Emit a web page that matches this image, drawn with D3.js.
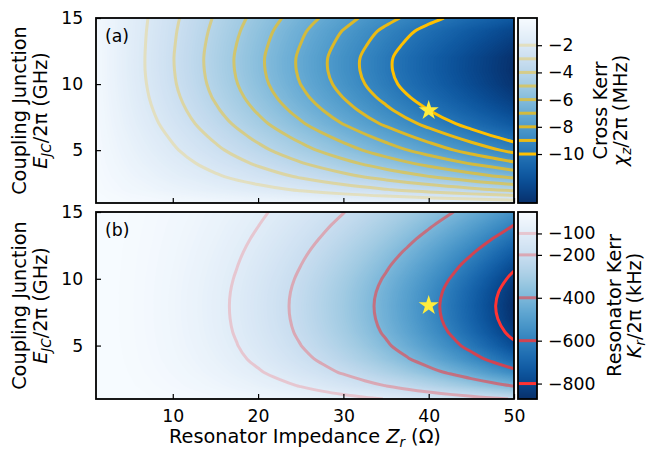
<!DOCTYPE html>
<html>
<head>
<meta charset="utf-8">
<script src="https://cdn.jsdelivr.net/npm/d3@7"></script>
<style>
  body { margin: 0; background: #fff; }
  svg { font-family: "DejaVu Sans", sans-serif; font-size: 17.3px; }
  .big { font-size: 19.3px; }
</style>
</head>
<body>
<svg width="652" height="454"></svg>
<script>
// grids: columns = resonator impedance (Ohm), rows = E_JC/2pi (GHz)
const crossZ = [0, 5, 10, 15, 20, 25, 30, 35, 40, 45, 50]
const kerrZ = [0, 2.5, 5, 7.5, 10, 12.5, 15, 17.5, 20, 22.5, 25, 27.5, 30, 32.5, 35, 37.5, 40, 42.5, 45, 47.5, 50]
const ejcGrid = [1, 2, 3, 4, 5, 6, 7, 8, 9, 10, 11, 12, 13, 14, 15]

// cross Kerr chi_z/2pi (MHz), one row per ejcGrid value
const crossKerr = [
  [0, -0.14, -0.28, -0.42, -0.56, -0.70, -0.84, -0.98, -1.12, -1.26, -1.40],
  [0, -0.42, -0.84, -1.26, -1.68, -2.10, -2.52, -2.94, -3.36, -3.78, -4.20],
  [0, -0.62, -1.25, -1.87, -2.49, -3.11, -3.74, -4.36, -4.98, -5.60, -6.23],
  [0, -0.79, -1.57, -2.36, -3.14, -3.93, -4.71, -5.50, -6.28, -7.07, -7.85],
  [0, -0.93, -1.87, -2.80, -3.73, -4.66, -5.59, -6.52, -7.45, -8.38, -9.30],
  [0, -1.06, -2.12, -3.18, -4.23, -5.27, -6.31, -7.35, -8.38, -9.41, -10.44],
  [0, -1.20, -2.38, -3.56, -4.72, -5.88, -7.03, -8.17, -9.29, -10.41, -11.52],
  [0, -1.30, -2.59, -3.86, -5.11, -6.35, -7.58, -8.79, -9.98, -11.15, -12.31],
  [0, -1.39, -2.76, -4.11, -5.43, -6.74, -8.02, -9.29, -10.53, -11.75, -12.95],
  [0, -1.45, -2.88, -4.28, -5.66, -7.01, -8.34, -9.65, -10.92, -12.18, -13.41],
  [0, -1.49, -2.94, -4.37, -5.77, -7.14, -8.49, -9.80, -11.09, -12.35, -13.58],
  [0, -1.49, -2.96, -4.39, -5.79, -7.15, -8.49, -9.79, -11.07, -12.31, -13.52],
  [0, -1.48, -2.92, -4.33, -5.69, -7.01, -8.30, -9.55, -10.75, -11.92, -13.05],
  [0, -1.46, -2.87, -4.23, -5.55, -6.83, -8.05, -9.24, -10.37, -11.46, -12.51],
  [0, -1.43, -2.79, -4.10, -5.34, -6.52, -7.63, -8.68, -9.67, -10.60, -11.46]
]

// resonator Kerr K_r/2pi (kHz), one row per ejcGrid value, columns follow kerrZ
const resonatorKerr = [
  [0, -0.5, -2.1, -4.8, -8.5, -13.3, -19.1, -25.9, -33.8, -42.7, -52.6, -63.5, -75.3, -88.2, -102.1, -116.9, -132.7, -149.5, -167.2, -185.8, -205.4],
  [0, -1.1, -4.2, -9.5, -16.9, -26.3, -37.8, -51.3, -66.8, -84.4, -103.9, -125.5, -148.9, -174.4, -201.8, -231.1, -262.4, -295.5, -330.5, -367.4, -406.1],
  [0, -1.5, -5.9, -13.3, -23.6, -36.8, -52.9, -71.8, -93.6, -118.1, -145.5, -175.7, -208.5, -244.2, -282.6, -323.6, -367.4, -413.7, -462.8, -514.4, -568.6],
  [0, -1.8, -7.2, -16.2, -28.7, -44.7, -64.3, -87.3, -113.7, -143.6, -176.9, -213.5, -253.5, -296.8, -343.4, -393.4, -446.5, -502.9, -562.5, -625.2, -691.1],
  [0, -2.0, -8.1, -18.2, -32.3, -50.3, -72.3, -98.2, -127.9, -161.5, -199.0, -240.2, -285.2, -333.9, -386.4, -442.5, -502.4, -565.8, -632.8, -703.4, -777.6],
  [0, -2.2, -8.7, -19.5, -34.6, -53.9, -77.4, -105.2, -137.0, -173.0, -213.1, -257.3, -305.5, -357.7, -413.9, -474.0, -538.1, -606.0, -677.8, -753.5, -832.9],
  [0, -2.3, -9.0, -20.2, -35.8, -55.8, -80.2, -108.9, -141.9, -179.2, -220.7, -266.5, -316.3, -370.4, -428.6, -490.9, -557.2, -627.6, -702.0, -780.3, -862.6],
  [0, -2.3, -9.1, -20.4, -36.2, -56.4, -81.0, -110.0, -143.4, -181.0, -223.0, -269.2, -319.6, -374.3, -433.0, -496.0, -563.0, -634.1, -709.2, -788.3, -871.4],
  [0, -2.3, -9.0, -20.1, -35.7, -55.6, -79.9, -108.5, -141.4, -178.5, -219.9, -265.4, -315.1, -369.0, -427.0, -489.0, -555.1, -625.2, -699.3, -777.3, -859.2],
  [0, -2.2, -8.6, -19.4, -34.3, -53.5, -76.9, -104.4, -136.1, -171.8, -211.6, -255.5, -303.3, -355.2, -411.0, -470.7, -534.3, -601.7, -673.0, -748.1, -827.0],
  [0, -2.0, -8.1, -18.3, -32.4, -50.5, -72.6, -98.5, -128.4, -162.1, -199.7, -241.1, -286.2, -335.2, -387.8, -444.2, -504.2, -567.9, -635.2, -706.0, -780.5],
  [0, -1.9, -7.6, -17.0, -30.1, -46.9, -67.4, -91.5, -119.2, -150.6, -185.5, -223.9, -265.8, -311.3, -360.2, -412.5, -468.2, -527.4, -589.8, -655.6, -724.8],
  [0, -1.7, -6.9, -15.5, -27.6, -43.0, -61.7, -83.8, -109.2, -137.9, -169.9, -205.1, -243.5, -285.1, -329.9, -377.9, -428.9, -483.1, -540.3, -600.6, -664.0],
  [0, -1.6, -6.3, -14.1, -25.0, -38.9, -55.9, -75.9, -98.9, -124.9, -153.9, -185.7, -220.5, -258.2, -298.8, -342.2, -388.4, -437.4, -489.3, -543.9, -601.2],
  [0, -1.4, -5.6, -12.6, -22.4, -34.9, -50.1, -68.1, -88.7, -112.0, -137.9, -166.5, -197.7, -231.5, -267.8, -306.8, -348.2, -392.2, -438.6, -487.6, -539.0]
]

const crossLevels = [-10, -9, -8, -7, -6, -5, -4, -3, -2]
const kerrLevels = [-800, -600, -400, -200, -100]
const crossTicks = [-2, -4, -6, -8, -10]
const kerrTicks = [-100, -200, -400, -600, -800]
const crossRange = [-13.6, 0]
const kerrRange = [-872, 0]
const zTicks = [10, 20, 30, 40, 50]
const ejcTicks = [5, 10, 15]
const workingPoint = [40, 8]

const svg = d3.select('svg')

const plotLeft = 96
const plotRight = 514
const cbLeft = 518
const cbRight = 537

const xScale = d3.scaleLinear().domain([1, 50]).range([plotLeft, plotRight])

const panels = [
  {
    key: 'a', label: '(a)', top: 18, bottom: 203,
    zGrid: crossZ, values: crossKerr, levels: crossLevels, ticks: crossTicks, range: crossRange,
    lineColor: '#ffc000',
    alpha: l => 0.22 + 0.78 * (Math.abs(l) - 2) / 8,
    cbLines: [606.5, 627],
    cbTitle: ['Cross Kerr', [['χ', 'i'], ['z', 'sub'], ['/2π (MHz)', '']]]
  },
  {
    key: 'b', label: '(b)', top: 212, bottom: 399,
    zGrid: kerrZ, values: resonatorKerr, levels: kerrLevels, ticks: kerrTicks, range: kerrRange,
    lineColor: '#ff3333',
    alpha: l => 0.2 + 0.8 * (Math.abs(l) - 100) / 700,
    cbLines: [620.5, 641],
    cbTitle: ['Resonator Kerr', [['K', 'i'], ['r', 'sub'], ['/2π (kHz)', '']]]
  }
]

const addRich = (text, parts) => {
  const hasSub = parts.some(p => p[1] === 'sub')
  parts.forEach(([s, kind], i) => {
    const t = text.append('tspan').text(s)
    if (kind === 'i') t.attr('font-style', 'italic')
    if (kind === 'sub') t.attr('font-style', 'italic').attr('font-size', '13.5px').attr('dy', 4)
    if (kind === '' && hasSub && i > 0) t.attr('dy', -4)
  })
}

const rotatedLabel = (x, cy, build) => {
  const t = svg.append('text')
    .attr('class', 'big')
    .attr('transform', `translate(${x},${cy}) rotate(-90)`)
    .attr('text-anchor', 'middle')
    .attr('fill', 'black')
  build(t)
}

// split contour rings into open lines, dropping the padded grid border
const isoLines = (multi, nx, ny) => {
  const onEdge = ([x, y]) => x <= 0 || x >= nx || y <= 0 || y >= ny
  const lines = []
  multi.coordinates.forEach(polygon => polygon.forEach(ring => {
    const pts = ring.slice(0, -1)
    const k = pts.findIndex(onEdge)
    if (k < 0) {
      lines.push({ pts, closed: true })
      return
    }
    const rot = pts.slice(k).concat(pts.slice(0, k))
    let cur = []
    rot.forEach(pt => {
      if (onEdge(pt)) {
        if (cur.length > 1) lines.push({ pts: cur, closed: false })
        cur = []
      } else {
        cur.push(pt)
      }
    })
    if (cur.length > 1) lines.push({ pts: cur, closed: false })
  }))
  return lines
}

const render = p => {
  const yScale = d3.scaleLinear().domain([1, 15]).range([p.bottom, p.top])
  const clipId = 'clip-' + p.key
  svg.append('clipPath').attr('id', clipId)
    .append('rect')
    .attr('x', plotLeft).attr('y', p.top)
    .attr('width', plotRight - plotLeft).attr('height', p.bottom - p.top)

  const nx = p.zGrid.length
  const ny = ejcGrid.length
  const dz = p.zGrid[1] - p.zGrid[0]
  const de = ejcGrid[1] - ejcGrid[0]
  const px = gx => xScale(p.zGrid[0] + (gx - 0.5) * dz)
  const py = gy => yScale(ejcGrid[0] + (gy - 0.5) * de)
  const path = d3.geoPath(d3.geoTransform({
    point: function(gx, gy) { this.stream.point(px(gx), py(gy)) }
  }))

  const flat = p.values.flat()
  const contours = d3.contours().size([nx, ny])
  const color = d3.scaleSequential(d3.interpolateBlues).domain([p.range[1], p.range[0]]).clamp(true)

  const step = (p.range[1] - p.range[0]) / 160
  const fillLevels = d3.range(p.range[0] - step, p.range[1], step)

  const g = svg.append('g').attr('clip-path', `url(#${clipId})`)

  g.selectAll('path.band')
    .data(contours.thresholds(fillLevels)(flat))
    .join('path')
    .attr('class', 'band')
    .attr('d', path)
    .attr('fill', d => color(d.value + step / 2))

  const openLine = d3.line().x(d => px(d[0])).y(d => py(d[1])).curve(d3.curveCatmullRom.alpha(0.5))
  const closedLine = d3.line().x(d => px(d[0])).y(d => py(d[1])).curve(d3.curveCatmullRomClosed.alpha(0.5))

  contours.thresholds(p.levels)(flat).forEach(c => {
    isoLines(c, nx, ny).forEach(l => {
      g.append('path')
        .attr('d', (l.closed ? closedLine : openLine)(l.pts))
        .attr('fill', 'none')
        .attr('stroke', p.lineColor)
        .attr('stroke-opacity', p.alpha(c.value))
        .attr('stroke-width', 3)
    })
  })

  g.append('path')
    .attr('transform', `translate(${xScale(workingPoint[0])},${yScale(workingPoint[1])})`)
    .attr('d', d3.symbol(d3.symbolStar, 125)())
    .attr('fill', '#ffec3d')

  // axes, ticks pointing inward
  const yAxis = d3.axisLeft(yScale).tickValues(ejcTicks)
    .tickSizeInner(-5).tickSizeOuter(0).tickPadding(12.7)
  svg.append('g')
    .attr('transform', `translate(${plotLeft},0)`)
    .call(yAxis)
    .attr('font-size', null).attr('font-family', null)
    .call(a => a.select('.domain').remove())
    .call(a => a.selectAll('.tick line').attr('stroke-width', 1.2))

  const xAxis = d3.axisBottom(xScale).tickValues(zTicks)
    .tickSizeInner(-5).tickSizeOuter(0).tickPadding(11)
  if (p.key === 'a') xAxis.tickFormat('')
  svg.append('g')
    .attr('transform', `translate(0,${p.bottom})`)
    .call(xAxis)
    .attr('font-size', null).attr('font-family', null)
    .call(a => a.select('.domain').remove())
    .call(a => a.selectAll('.tick line').attr('stroke-width', 1.2))

  svg.append('rect')
    .attr('x', plotLeft).attr('y', p.top)
    .attr('width', plotRight - plotLeft).attr('height', p.bottom - p.top)
    .attr('fill', 'none').attr('stroke', 'black').attr('stroke-width', 1.8)

  svg.append('text')
    .attr('x', 105).attr('y', p.top + 24)
    .text(p.label)

  const cy = (p.top + p.bottom) / 2
  rotatedLabel(26, cy, t => t.text('Coupling Junction'))
  rotatedLabel(46.5, cy, t => addRich(t, [['E', 'i'], ['JC', 'sub'], ['/2π (GHz)', '']]))

  // colorbar
  const cbScale = d3.scaleLinear().domain(p.range).range([p.bottom, p.top])
  svg.append('g')
    .selectAll('rect')
    .data(d3.range(p.top, p.bottom, 1))
    .join('rect')
    .attr('x', cbLeft).attr('y', d => d)
    .attr('width', cbRight - cbLeft).attr('height', 1.2)
    .attr('fill', d => color(cbScale.invert(d + 0.5)))

  svg.append('g')
    .selectAll('line')
    .data(p.levels)
    .join('line')
    .attr('x1', cbLeft).attr('x2', cbRight)
    .attr('y1', d => cbScale(d)).attr('y2', d => cbScale(d))
    .attr('stroke', p.lineColor)
    .attr('stroke-opacity', d => p.alpha(d))
    .attr('stroke-width', 3)

  svg.append('rect')
    .attr('x', cbLeft).attr('y', p.top)
    .attr('width', cbRight - cbLeft).attr('height', p.bottom - p.top)
    .attr('fill', 'none').attr('stroke', 'black').attr('stroke-width', 1.8)

  const cbAxis = d3.axisRight(cbScale).tickValues(p.ticks)
    .tickSizeInner(5).tickSizeOuter(0).tickPadding(6)
  svg.append('g')
    .attr('transform', `translate(${cbRight},0)`)
    .call(cbAxis)
    .attr('font-size', null).attr('font-family', null)
    .call(a => a.select('.domain').remove())
    .call(a => a.selectAll('.tick line').attr('stroke-width', 1.2))

  rotatedLabel(p.cbLines[0], cy, t => t.text(p.cbTitle[0]))
  rotatedLabel(p.cbLines[1], cy, t => addRich(t, p.cbTitle[1]))
}

panels.forEach(render)

const xl = svg.append('text')
  .attr('class', 'big')
  .attr('x', (plotLeft + plotRight) / 2).attr('y', 443)
  .attr('text-anchor', 'middle')
addRich(xl, [['Resonator Impedance ', ''], ['Z', 'i'], ['r', 'sub'], [' (Ω)', '']])
</script>
</body>
</html>
